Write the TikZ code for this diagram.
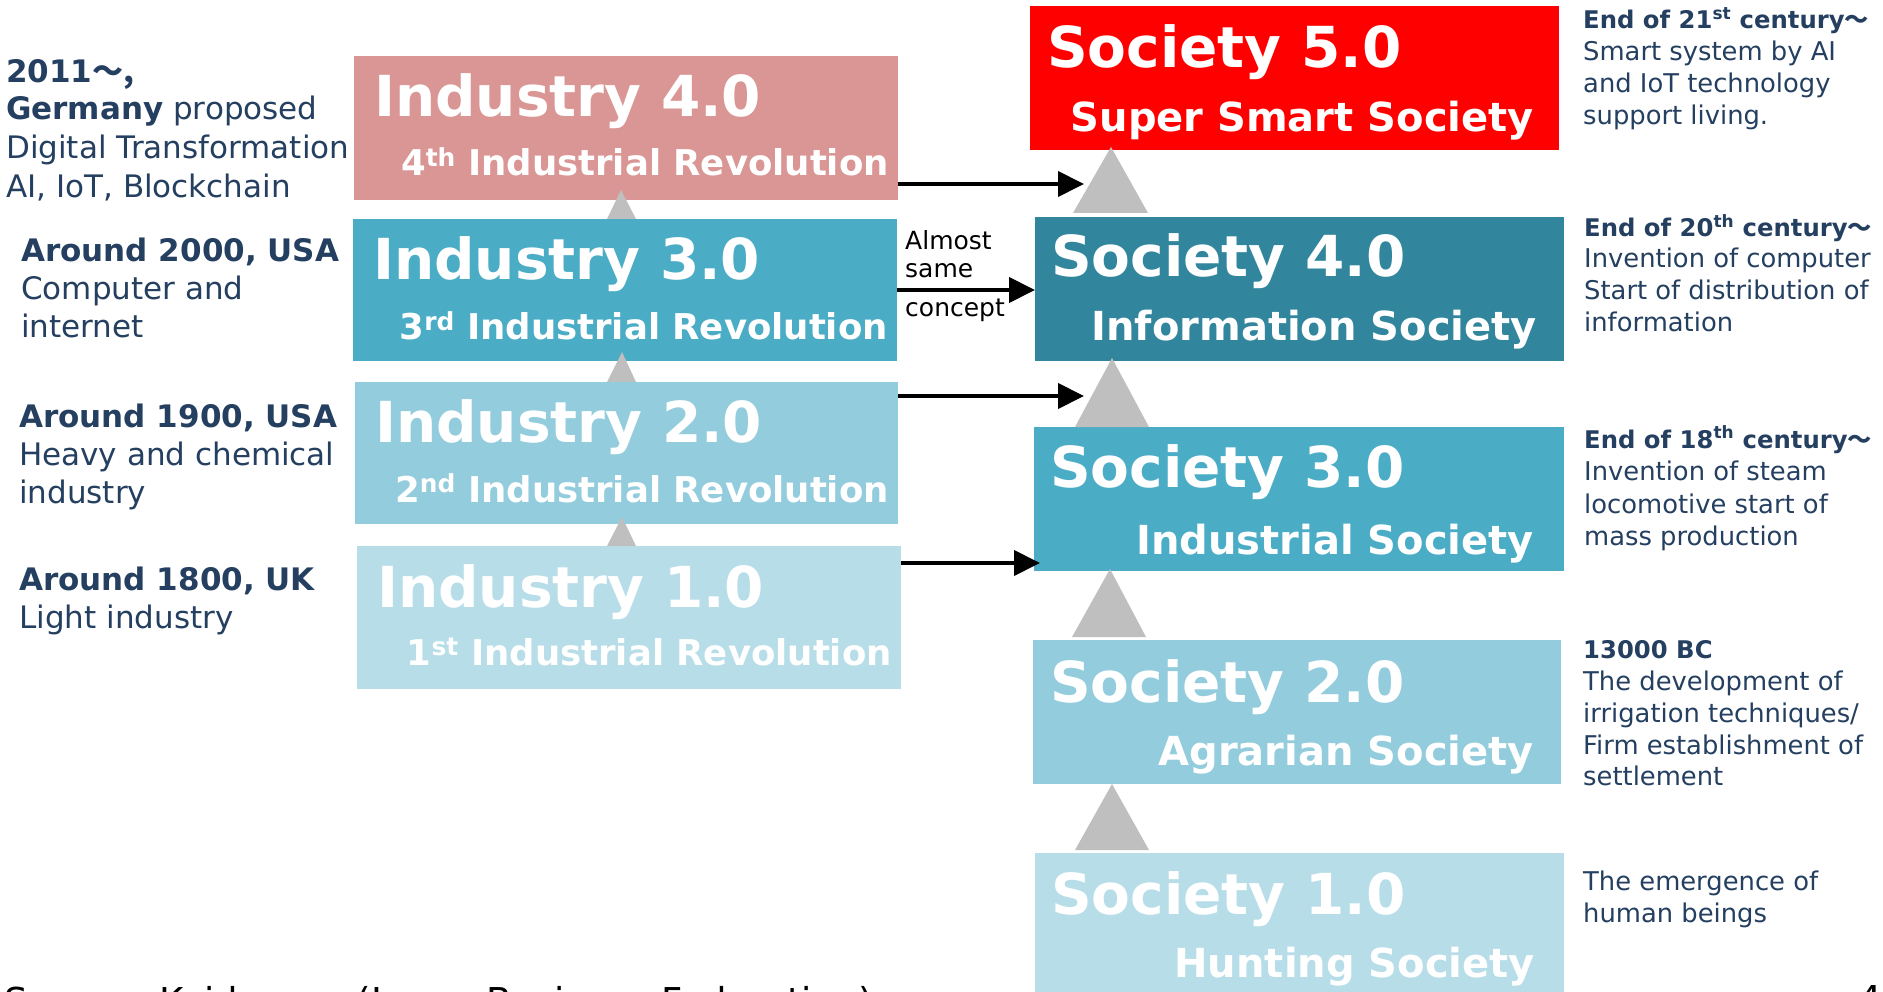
\documentclass[tikz,border=0pt]{standalone}
\usepackage{fontspec}
\setmainfont{DejaVu Sans}
\newfontfamily\cjk{Noto Sans CJK JP}
\usetikzlibrary{arrows.meta,calc}
\definecolor{navy}{HTML}{243F60}
\definecolor{ind4}{HTML}{D99694}
\definecolor{tealA}{HTML}{4BACC6}
\definecolor{tealD}{HTML}{31859C}
\definecolor{tealB}{HTML}{93CDDD}
\definecolor{tealC}{HTML}{B7DEE8}
\definecolor{trigray}{HTML}{BFBFBF}
\tikzset{
  box/.style={inner sep=0pt, outer sep=0pt, anchor=north west, minimum height=144pt},
  ttl/.style={text=white, font=\bfseries\fontsize{56.5}{60}\selectfont, inner sep=0pt, anchor=base west},
  isub/.style={text=white, font=\bfseries\fontsize{35.5}{40}\selectfont, inner sep=0pt, anchor=base east},
  ssub/.style={text=white, font=\bfseries\fontsize{40}{44}\selectfont, inner sep=0pt, anchor=base east},
  side/.style={text=navy, font=\fontsize{31}{36}\selectfont, inner sep=0pt, anchor=base west},
  rside/.style={text=navy, font=\fontsize{25.8}{30}\selectfont, inner sep=0pt, anchor=base west},
  rhead/.style={text=navy, font=\bfseries\fontsize{24.3}{30}\selectfont, inner sep=0pt, anchor=base west},
  note/.style={text=black, font=\fontsize{25}{30}\selectfont, inner sep=0pt, anchor=base west},
  tri/.style={fill=trigray},
  link/.style={line width=4pt, -{Triangle[length=26pt,width=25pt]}},
}
\begin{document}
\begin{tikzpicture}[x=1pt,y=-1pt]
\path[use as bounding box, clip] (0,0) rectangle (1883,992);
\fill[white] (0,0) rectangle (1883,992);

% Industry boxes
\node[box, fill=ind4,  minimum width=544pt] (i4) at (354,56) {};
\node[box, fill=tealA, minimum width=544pt, minimum height=142pt] (i3) at (353,219) {};
\node[box, fill=tealB, minimum width=543pt, minimum height=142pt] (i2) at (355,382) {};
\node[box, fill=tealC, minimum width=544pt, minimum height=143pt] (i1) at (357,546) {};

% Society boxes
\node[box, fill=red,   minimum width=529pt] (s5) at (1030,6) {};
\node[box, fill=tealD, minimum width=529pt] (s4) at (1035,217) {};
\node[box, fill=tealA, minimum width=530pt] (s3) at (1034,427) {};
\node[box, fill=tealB, minimum width=528pt] (s2) at (1033,640) {};
\node[box, fill=tealC, minimum width=529pt] (s1) at (1035,853) {};

% Box texts
\node[ttl] (i4t) at ($(i4.north west)+(20,61)$) {Industry 4.0};
\node[isub] (i4s) at ($(i4.north east)+(-9,120)$) {4\textsuperscript{th} Industrial Revolution};
\node[ttl] (i3t) at ($(i3.north west)+(20,61)$) {Industry 3.0};
\node[isub] (i3s) at ($(i3.north east)+(-9,121)$) {3\textsuperscript{rd} Industrial Revolution};
\node[ttl] (i2t) at ($(i2.north west)+(20,60)$) {Industry 2.0};
\node[isub] (i2s) at ($(i2.north east)+(-9,120)$) {2\textsuperscript{nd} Industrial Revolution};
\node[ttl] (i1t) at ($(i1.north west)+(20,61)$) {Industry 1.0};
\node[isub] (i1s) at ($(i1.north east)+(-9,119)$) {1\textsuperscript{st} Industrial Revolution};

\node[ttl] (s5t) at ($(s5.north west)+(17,62)$) {Society 5.0};
\node[ssub] (s5s) at ($(s5.north east)+(-25,126)$) {Super Smart Society};
\node[ttl] (s4t) at ($(s4.north west)+(16,60)$) {Society 4.0};
\node[ssub] (s4s) at ($(s4.north east)+(-27,124)$) {Information Society};
\node[ttl] (s3t) at ($(s3.north west)+(16,60)$) {Society 3.0};
\node[ssub] (s3s) at ($(s3.north east)+(-30,127)$) {Industrial Society};
\node[ttl] (s2t) at ($(s2.north west)+(17,62)$) {Society 2.0};
\node[ssub] (s2s) at ($(s2.north east)+(-27,125)$) {Agrarian Society};
\node[ttl] (s1t) at ($(s1.north west)+(16,61)$) {Society 1.0};
\node[ssub] (s1s) at ($(s1.north east)+(-29,124)$) {Hunting Society};

% Triangles
\fill[tri] (1111,147) -- (1073,213) -- (1148,213) -- cycle;
\fill[tri] (1112,358) -- (1075,427) -- (1149,427) -- cycle;
\fill[tri] (1110,569) -- (1072,637) -- (1146,637) -- cycle;
\fill[tri] (1112,784) -- (1075,850) -- (1149,850) -- cycle;
\fill[tri] (621,190) -- (607,219) -- (636,219) -- cycle;
\fill[tri] (622,352) -- (607,382) -- (636,382) -- cycle;
\fill[tri] (622,517) -- (607,546) -- (636,546) -- cycle;

% Arrows
\coordinate (a4s) at ($(i4.south east)+(0,-16)$);
\coordinate (a4e) at (1084,184);
\draw[link] (a4s) -- (a4e);
\draw[link] (i3.east) -- (i3.east -| s4.west);
\coordinate (a2s) at ($(i2.north east)+(0,14)$);
\coordinate (a2e) at (1084,396);
\draw[link] (a2s) -- (a2e);
\coordinate (a1s) at ($(i1.north east)+(0,17)$);
\coordinate (a1e) at ($(s3.south west)+(6,-8)$);
\draw[link] (a1s) -- (a1e);

\node[note] (n1) at (905,250) {Almost};
\node[note] (n2) at (905,278) {same};
\node[note] (n3) at (905,317) {concept};

% Left texts
\node[side] (l11) at (6,83) {\bfseries 2011\cjk{～},};
\node[side] (l12) at (6,120) {\textbf{Germany} proposed};
\node[side] (l13) at (6,159) {Digital Transformation};
\node[side] (l14) at (6,198) {AI, IoT, Blockchain};

\node[side] (l21) at (21,262) {\bfseries Around 2000, USA};
\node[side] (l22) at (21,300) {Computer and};
\node[side] (l23) at (21,338) {internet};

\node[side] (l31) at (19,427) {\bfseries Around 1900, USA};
\node[side] (l32) at (19,465) {Heavy and chemical};
\node[side] (l33) at (19,503) {industry};

\node[side] (l41) at (19,590) {\bfseries Around 1800, UK};
\node[side] (l42) at (19,628) {Light industry};

% Right texts
\node[rhead] (r11) at (1583,29) {End of 21\textsuperscript{st} century\cjk{～}};
\node[rside] (r12) at (1583,61) {Smart system by AI};
\node[rside] (r13) at (1583,93) {and IoT technology};
\node[rside] (r14) at (1583,125) {support living.};

\node[rhead] (r21) at (1584,237) {End of 20\textsuperscript{th} century\cjk{～}};
\node[rside] (r22) at (1584,268) {Invention of computer};
\node[rside] (r23) at (1584,300) {Start of distribution of};
\node[rside] (r24) at (1584,332) {information};

\node[rhead] (r31) at (1584,448) {End of 18\textsuperscript{th} century\cjk{～}};
\node[rside] (r32) at (1584,480) {Invention of steam};
\node[rside] (r33) at (1584,513) {locomotive start of};
\node[rside] (r34) at (1584,545) {mass production};

\node[rhead] (r41) at (1583,658) {13000 BC};
\node[rside] (r42) at (1583,690) {The development of};
\node[rside] (r43) at (1583,722) {irrigation techniques/};
\node[rside] (r44) at (1583,754) {Firm establishment of};
\node[rside] (r45) at (1583,785) {settlement};

\node[rside] (r51) at (1583,890) {The emergence of};
\node[rside] (r52) at (1583,922) {human beings};

% Footer
\node[inner sep=0pt, anchor=base west, font=\fontsize{37}{40}\selectfont] (src) at (4,1014) {Source: Keidanren (Japan Business Federation)};
\node[inner sep=0pt, anchor=base west, font=\fontsize{37}{40}\selectfont] (pg) at (1858,1012) {4};
\end{tikzpicture}
\end{document}
